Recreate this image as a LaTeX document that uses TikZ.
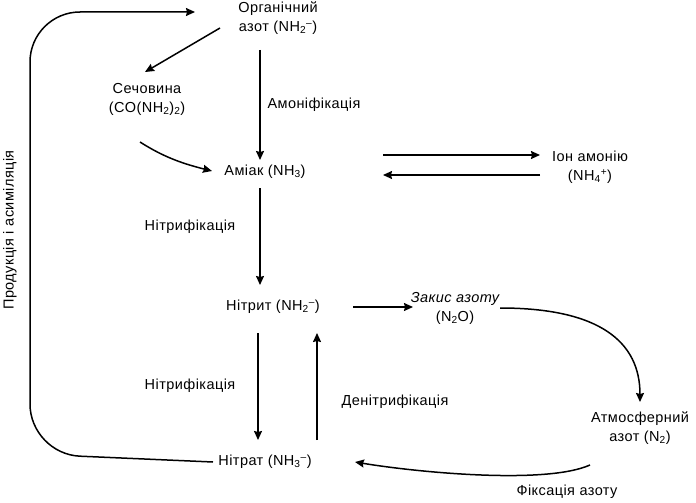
\documentclass[tikz,border=0pt]{standalone}
\usepackage{fontspec}
\setmainfont[LetterSpace=3]{Liberation Sans}
\usetikzlibrary{arrows.meta}
\newcommand{\sbt}[1]{\textsubscript{#1}}
\newcommand{\spt}[1]{\textsuperscript{#1}}
\begin{document}
\begin{tikzpicture}[x=1pt,y=-1pt,
  every node/.style={font=\fontsize{14.5}{19}\selectfont, align=center, inner sep=0pt},
  lbl/.style={},
  arr/.style={line width=1.5pt, -{Stealth[length=9pt,width=8pt,inset=1pt]}}]
\useasboundingbox (0,0) rectangle (696,503);
% nodes
\node (org) at (278,18) {Органічний\\азот (NH\sbt{2}\spt{–})};
\node (sech) at (147,99) {Сечовина\\(CO(NH\sbt{2})\sbt{2})};
\node (amiak) at (265,172) {Аміак (NH\sbt{3})};
\node (ion) at (590,167) {Іон амонію\\(NH\sbt{4}\spt{+})};
\node (nitryt) at (273,307) {Нітрит (NH\sbt{2}\spt{–})};
\node (zakys) at (455,308) {\itshape Закис азоту\\(N\sbt{2}O)};
\node (atmo) at (640,428) {Атмосферний\\азот (N\sbt{2})};
\node (nitrat) at (265,462) {Нітрат (NH\sbt{3}\spt{–})};
% labels
\node[lbl] (amonif) at (314,105) {Амоніфікація};
\node[lbl] (nitrif1) at (190,227) {Нітрифікація};
\node[lbl] (nitrif2) at (190,386) {Нітрифікація};
\node[lbl] (denitr) at (395,402) {Денітрифікація};
\node[lbl] (fiks) at (567,492) {Фіксація азоту};
\node[lbl, rotate=90] (prod) at (10,230) {Продукція і асиміляція};
% connectors
\draw[arr] ([shift={(-58,10)}]org.center) -- ([shift={(-2,-27)}]sech.center);
\draw[arr] ([shift={(-7,43)}]sech.center) .. controls +(22,14) and +(-32,-8) .. ([shift={(-53,-1)}]amiak.center);
\draw[arr] ([shift={(-18,32)}]org.center) -- ([shift={(-5,-12)}]amiak.center);
\draw[arr] ([shift={(118,-17)}]amiak.center) -- ([shift={(-50,-12)}]ion.center);
\draw[arr] ([shift={(-50,8)}]ion.center) -- ([shift={(118,3)}]amiak.center);
\draw[arr] ([shift={(-5,16)}]amiak.center) -- ([shift={(-13,-22)}]nitryt.center);
\draw[arr] ([shift={(80,0)}]nitryt.center) -- ([shift={(-42,-1)}]zakys.center);
\draw[arr] ([shift={(45,0)}]zakys.center) .. controls +(100,0) and +(0,-60) .. ([shift={(0,-26)}]atmo.center);
\draw[arr] ([shift={(-15,26)}]nitryt.center) -- ([shift={(-7,-22)}]nitrat.center);
\draw[arr] ([shift={(52,-22)}]nitrat.center) -- ([shift={(44,26)}]nitryt.center);
\draw[arr] ([shift={(-50,37)}]atmo.center) .. controls +(-45,20) and +(60,10) .. ([shift={(90,0)}]nitrat.center);
\draw[arr, rounded corners=50pt] ([shift={(-52,0)}]nitrat.center) -- (30,454) -- (30,12) -- ([shift={(-83,-6)}]org.center);
\end{tikzpicture}
\end{document}
